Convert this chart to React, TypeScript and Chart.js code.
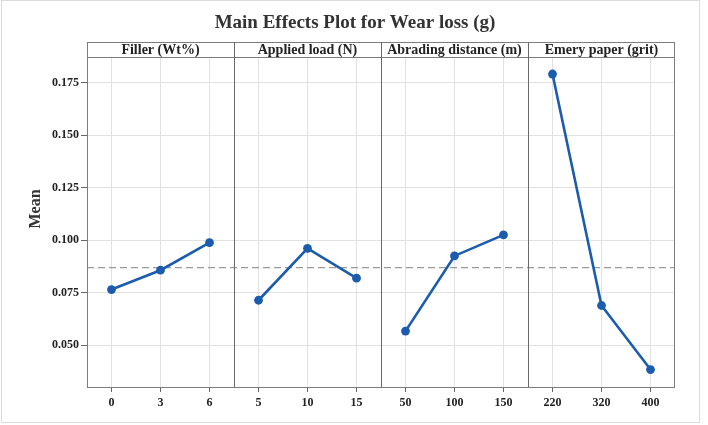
import React, { useEffect, useRef } from "react";
import { Chart, registerables } from "chart.js";

Chart.register(...registerables);

// Factor levels and the mean response at each level
const FILLER_LEVELS = ["0", "3", "6"];
const FILLER_MEANS = [0.0765, 0.0857, 0.0988];

const LOAD_LEVELS = ["5", "10", "15"];
const LOAD_MEANS = [0.0714, 0.0961, 0.0819];

const DISTANCE_LEVELS = ["50", "100", "150"];
const DISTANCE_MEANS = [0.0567, 0.0925, 0.1025];

const GRIT_LEVELS = ["220", "320", "400"];
const GRIT_MEANS = [0.1791, 0.0689, 0.0384];

const PANEL_TITLES = [
  "Filler (Wt%)",
  "Applied load (N)",
  "Abrading distance (m)",
  "Emery paper (grit)",
];

const GRAND_MEAN = 0.0869;
const Y_TICKS = [0.05, 0.075, 0.1, 0.125, 0.15, 0.175];
const Y_MIN = 0.0301;
const Y_MAX = 0.1872;

const TITLE = "Main Effects Plot for Wear loss (g)";
const Y_TITLE = "Mean";

const SERIF = "'Liberation Serif', 'Times New Roman', serif";
const LINE_BLUE = "#1b5cae";
const GRID = "#e2e2e2";

const GROUPS = [FILLER_MEANS, LOAD_MEANS, DISTANCE_MEANS, GRIT_MEANS];
const LEVELS = [FILLER_LEVELS, LOAD_LEVELS, DISTANCE_LEVELS, GRIT_LEVELS];

export default function App() {
  const ref = useRef<HTMLCanvasElement | null>(null);

  useEffect(() => {
    const canvas = ref.current;
    if (!canvas) return;

    const labels = LEVELS.flat();
    const perPanel = FILLER_LEVELS.length;

    const datasets = GROUPS.map((means, g) => {
      const data: (number | null)[] = labels.map(() => null);
      means.forEach((v, i) => {
        data[g * perPanel + i] = v;
      });
      return {
        label: PANEL_TITLES[g],
        data,
        borderColor: LINE_BLUE,
        backgroundColor: LINE_BLUE,
        borderWidth: 2.6,
        pointRadius: 4.4,
        pointBorderWidth: 0,
        pointBackgroundColor: LINE_BLUE,
        tension: 0,
        spanGaps: false,
      };
    });

    const panelsPlugin = {
      id: "panels",
      beforeDatasetsDraw(chart: any) {
        const { ctx, chartArea } = chart;
        const y = chart.scales.y.getPixelForValue(GRAND_MEAN);
        ctx.save();
        ctx.strokeStyle = "#9a9a9a";
        ctx.lineWidth = 1.3;
        ctx.setLineDash([7, 4]);
        ctx.beginPath();
        ctx.moveTo(chartArea.left, y);
        ctx.lineTo(chartArea.right, y);
        ctx.stroke();
        ctx.restore();
      },
      afterDraw(chart: any) {
        const { ctx, chartArea } = chart;
        const { left, right, top, bottom } = chartArea;
        const xs = chart.scales.x;
        const headerTop = top - 15;
        const n = labels.length;
        const slot = (right - left) / n;

        ctx.save();
        // outer image frame
        ctx.strokeStyle = "#dcdcdc";
        ctx.lineWidth = 1;
        ctx.strokeRect(1.5, 0.5, 698, 422);

        // plot frame including header strip
        ctx.strokeStyle = "#7c7c7c";
        ctx.lineWidth = 1;
        ctx.strokeRect(left + 0.5, headerTop + 0.5, right - left - 1, bottom - headerTop);
        ctx.beginPath();
        ctx.moveTo(left, top + 0.5);
        ctx.lineTo(right, top + 0.5);
        ctx.stroke();

        // panel dividers
        ctx.strokeStyle = "#6a6a6a";
        for (let g = 1; g < GROUPS.length; g++) {
          const x = Math.round(xs.getPixelForTick(g * perPanel) - slot / 2) + 0.5;
          ctx.beginPath();
          ctx.moveTo(x, headerTop);
          ctx.lineTo(x, bottom);
          ctx.stroke();
        }

        // panel headings
        ctx.fillStyle = "#222";
        ctx.font = `bold 14px ${SERIF}`;
        ctx.textAlign = "center";
        ctx.textBaseline = "middle";
        PANEL_TITLES.forEach((t, g) => {
          const cx = xs.getPixelForTick(g * perPanel + 1);
          ctx.fillText(t, cx, headerTop + 8.5);
        });

        // chart title
        ctx.fillStyle = "#333";
        ctx.font = `bold 19px ${SERIF}`;
        ctx.fillText(TITLE, (left + right) / 2 - 26, 23);

        // y axis title
        ctx.translate(36, 209);
        ctx.rotate(-Math.PI / 2);
        ctx.font = `bold 16px ${SERIF}`;
        ctx.fillText(Y_TITLE, 0, 0);
        ctx.restore();
      },
    };

    const chart = new Chart(canvas, {
      type: "line",
      data: { labels, datasets },
      options: {
        responsive: false,
        animation: false,
        layout: { padding: { top: 57, right: 33, bottom: 0, left: 0 } },
        plugins: {
          legend: { display: false },
          tooltip: { enabled: false },
          title: { display: false },
        },
        scales: {
          x: {
            type: "category",
            offset: true,
            afterFit: (s: any) => {
              s.height = 38;
            },
            grid: {
              color: GRID,
              tickColor: "#666",
              tickLength: 5,
              offset: false,
            },
            border: { display: false },
            ticks: {
              autoSkip: false,
              maxRotation: 0,
              padding: 4,
              color: "#222",
              font: { family: SERIF, size: 12, weight: "bold" },
            },
          },
          y: {
            type: "linear",
            min: Y_MIN,
            max: Y_MAX,
            afterBuildTicks: (s: any) => {
              s.ticks = Y_TICKS.map((v) => ({ value: v }));
            },
            afterFit: (s: any) => {
              s.width = 87;
            },
            grid: {
              color: GRID,
              tickColor: "#666",
              tickLength: 6,
            },
            border: { display: false },
            ticks: {
              padding: 2,
              color: "#222",
              font: { family: SERIF, size: 12, weight: "bold" },
              callback: (v: any) => Number(v).toFixed(3),
            },
          },
        },
      },
      plugins: [panelsPlugin],
    } as any);

    return () => chart.destroy();
  }, []);

  return (
    <div style={{ position: "absolute", left: 0, top: 0, width: 708, height: 425, background: "#fff" }}>
      <canvas ref={ref} width={708} height={425} style={{ display: "block" }} />
    </div>
  );
}
